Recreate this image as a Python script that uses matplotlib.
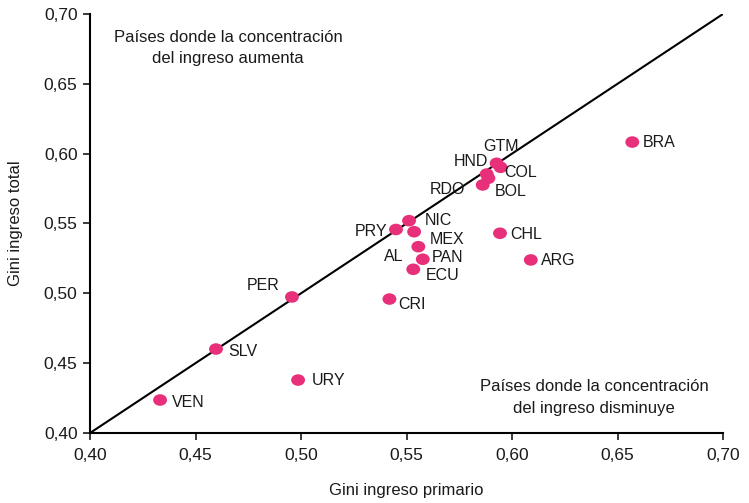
import matplotlib
matplotlib.use("Agg")
import matplotlib.pyplot as plt
import numpy as np
from matplotlib.path import Path

plt.rcParams['font.family'] = ['Liberation Sans', 'DejaVu Sans']

# Gini of primary income (x) vs Gini of total income (y)
countries = ["BRA", "GTM", "HND", "COL", "BOL", "RDO", "NIC", "PRY", "MEX", "AL",
             "PAN", "ECU", "CRI", "CHL", "ARG", "PER", "SLV", "URY", "VEN"]
gini_primary = [0.657, 0.5946, 0.5927, 0.5880, 0.5888, 0.5861, 0.5512, 0.5450, 0.5536, 0.5556,
                0.5577, 0.5532, 0.5419, 0.5943, 0.6089, 0.4957, 0.4597, 0.4986, 0.4332]
gini_total = [0.6083, 0.5902, 0.5931, 0.5854, 0.5824, 0.5776, 0.5520, 0.5457, 0.5441, 0.5334,
              0.5244, 0.5172, 0.4959, 0.5430, 0.5239, 0.4974, 0.4601, 0.4379, 0.4236]

# label placement: (dx, dy) in pixels from the point, horizontal alignment
label_pos = {
    "BRA": (10, 0, "left"), "GTM": (-17, 21, "left"), "HND": (-8, 2, "right"),
    "COL": (18, 2, "left"), "BOL": (6, -13, "left"), "RDO": (-18, -5, "right"),
    "NIC": (16, 0, "left"), "PRY": (-9, -2, "right"), "MEX": (16, -8, "left"),
    "AL": (-15, -10, "right"), "PAN": (9, 2, "left"), "ECU": (12, -6, "left"),
    "CRI": (9, -5, "left"), "CHL": (10, -1, "left"), "ARG": (10, -1, "left"),
    "PER": (-12, 11, "right"), "SLV": (12, -2, "left"), "URY": (14, 0, "left"),
    "VEN": (12, -2, "left"),
}

PINK = "#E8307A"

fig = plt.figure(figsize=(7.49, 5.03), dpi=100)
ax = fig.add_axes([0.1202, 0.1392, 0.8451, 0.8330])

# 45 degree reference line
ax.plot([0.40, 0.70], [0.40, 0.70], color="black", lw=1.5, zorder=2)

# slightly wide ellipse marker
circ = Path.unit_circle()
ellipse = Path(circ.vertices * np.array([1.2, 1.0]), circ.codes)
ax.scatter(gini_primary, gini_total, s=100, marker=ellipse, color=PINK,
           edgecolors="none", zorder=3)

for name, x, y in zip(countries, gini_primary, gini_total):
    dx, dy, ha = label_pos[name]
    ax.annotate(name, (x, y), xytext=(dx, dy), textcoords="offset pixels",
                ha=ha, va="center", fontsize=11.5, color="#1a1a1a")

ax.text(0.4655, 0.6757, "Países donde la concentración\ndel ingreso aumenta",
        ha="center", va="center", fontsize=12, linespacing=1.55, color="#1a1a1a")
ax.text(0.6390, 0.4254, "Países donde la concentración\ndel ingreso disminuye",
        ha="center", va="center", fontsize=12, linespacing=1.55, color="#1a1a1a")

ax.set_xlim(0.40, 0.70)
ax.set_ylim(0.40, 0.70)
ticks = [0.40, 0.45, 0.50, 0.55, 0.60, 0.65, 0.70]
tick_labels = ["0,40", "0,45", "0,50", "0,55", "0,60", "0,65", "0,70"]
ax.set_xticks(ticks)
ax.set_xticklabels(tick_labels)
ax.set_yticks(ticks)
ax.set_yticklabels(tick_labels)
ax.tick_params(labelsize=12.5, length=5, width=1.2, colors="#1a1a1a")
ax.tick_params(axis="x", pad=6)
ax.tick_params(axis="y", pad=4)

for side in ["top", "right"]:
    ax.spines[side].set_visible(False)
for side in ["left", "bottom"]:
    ax.spines[side].set_linewidth(1.5)
ax.spines["left"].set_zorder(4)
ax.spines["bottom"].set_zorder(4)

ax.set_xlabel("Gini ingreso primario", fontsize=12, labelpad=14, color="#1a1a1a")
ax.set_ylabel("Gini ingreso total", fontsize=12, labelpad=15, color="#1a1a1a")

fig.savefig("out.png", dpi=100)
